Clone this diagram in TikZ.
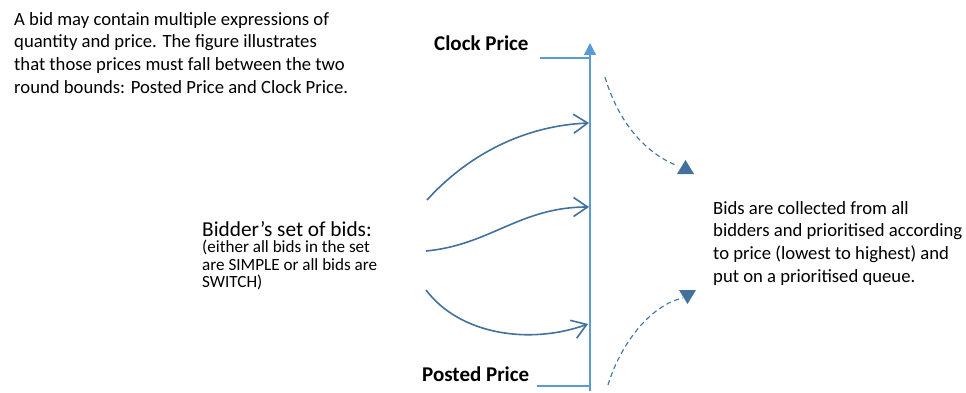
\documentclass[tikz,border=0pt]{standalone}
\usepackage{fontspec}
\setmainfont{Carlito}
\usetikzlibrary{arrows.meta}
\definecolor{curveblue}{HTML}{41719C}
\definecolor{axisblue}{HTML}{5B9BD5}
\tikzset{
  bidcurve/.style={draw=curveblue, line width=1.6pt, -{Straight Barb[length=14pt,width=19pt,line width=1.6pt]}},
  flowdash/.style={draw=curveblue, line width=1.1pt, dash pattern=on 5pt off 3.5pt},
  tri/.style={fill=curveblue, draw=none},
  axisline/.style={draw=axisblue, line width=1.4pt},
  bodytext/.style={font=\fontsize{18.67}{22.7}\selectfont, align=left, inner sep=0pt, anchor=north west},
  boldlabel/.style={font=\fontsize{21}{24}\selectfont\bfseries, inner sep=0pt, anchor=base west},
}
\begin{document}
\begin{tikzpicture}[x=1pt,y=-1pt]
\useasboundingbox (0,0) rectangle (966,393);

% texts
\node[bodytext] (intro) at (14,12) {A bid may contain multiple expressions of\\quantity and price. The figure illustrates\\that those prices must fall between the two\\round bounds: Posted Price and Clock Price.};
\node[bodytext] (collect) at (713,201) {Bids are collected from all\\bidders and prioritised according\\to price (lowest to highest) and\\put on a prioritised queue.};
\node[font=\fontsize{21.3}{24}\selectfont, inner sep=0pt, anchor=base west] (bidder) at (202,236) {Bidder’s set of bids:};
\node[font=\fontsize{17.1}{17.3}\selectfont, align=left, inner sep=0pt, anchor=north west] (bidnote) at (202,240) {(either all bids in the set\\are SIMPLE or all bids are\\SWITCH)};
\node[boldlabel] (clock) at (434,50.5) {Clock Price};
\node[boldlabel] (posted) at (422,381) {Posted Price};

% axis
\coordinate (axbot) at (590,391);
\coordinate (axtop) at (590,43);
\coordinate (cktick) at (540,58);
\coordinate (ckaxis) at (590,58);
\coordinate (pptick) at (537,386);
\coordinate (ppaxis) at (590,386);
\draw[axisline, -{Triangle[length=12pt,width=12pt]}] (axbot) -- (axtop);
\draw[axisline] (cktick) -- (ckaxis);
\draw[axisline] (pptick) -- (ppaxis);

% bid curves
\coordinate (s1) at (427,200);
\coordinate (e1) at (589,123);
\coordinate (s2) at (426,251);
\coordinate (e2) at (589,207);
\coordinate (s3) at (426,290);
\coordinate (e3) at (588,324);
\draw[bidcurve] (s1) .. controls (465,158) and (520,126) .. (e1);
\draw[bidcurve] (s2) .. controls (490,245) and (520,207) .. (e2);
\draw[bidcurve] (s3) .. controls (460,335) and (530,345) .. (e3);

% dashed flows
\coordinate (d1s) at (605,77);
\coordinate (d1e) at (678,166);
\coordinate (d2s) at (608,385);
\coordinate (d2e) at (683,298);
\draw[flowdash] (d1s) .. controls (617,118) and (642,152) .. (d1e);
\draw[flowdash] (d2s) .. controls (620,345) and (650,305) .. (d2e);
\fill[tri] (685.5,160) -- (694,174) -- (677,174) -- cycle;
\fill[tri] (679,290) -- (696,290) -- (687.5,304) -- cycle;
\end{tikzpicture}
\end{document}
